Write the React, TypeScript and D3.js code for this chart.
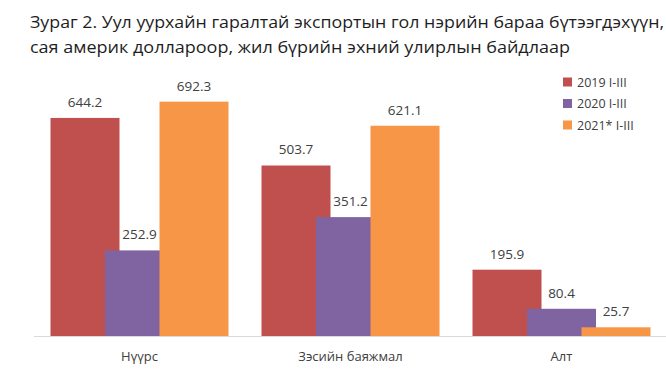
import React from 'react';
import * as d3 from 'd3';

const categories = ['Нүүрс', 'Зэсийн баяжмал', 'Алт'];
const seriesNames = ['2019 I-III', '2020 I-III', '2021* I-III'];
const values2019 = [644.2, 503.7, 195.9];
const values2020 = [252.9, 351.2, 80.4];
const values2021 = [692.3, 621.1, 25.7];
const seriesColors = ['#C0504D', '#8064A2', '#F79646'];
const titleLines = [
  'Зураг 2. Уул уурхайн гаралтай экспортын гол нэрийн бараа бүтээгдэхүүн,',
  'сая америк доллароор, жил бүрийн эхний улирлын байдлаар',
];

const W = 666;
const H = 385;
const FONT = '"Open Sans", "Noto Sans", sans-serif';

export default function App() {
  const series = [values2019, values2020, values2021];

  // категорийн тэнхлэг
  const x = d3.scaleBand<string>().domain(categories).range([34, 667]).paddingInner(0);
  // цувралын шилжилт (баганууд давхцана)
  const offset = d3.scalePoint<string>().domain(seriesNames).range([-54.5, 54.5]);
  const barWidth = x.bandwidth() * 0.327;
  const y = d3.scaleLinear().domain([0, 800]).range([336, 65.2]);

  const barCenter = (si: number, ci: number) =>
    (x(categories[ci]) || 0) + x.bandwidth() / 2 + (offset(seriesNames[si]) || 0);

  return (
    <div style={{ position: 'absolute', left: 0, top: 0 }}>
      <svg width={W} height={H} style={{ display: 'block', background: '#fff' }} fontFamily={FONT}>
        {/* Гарчиг */}
        <text x={30} y={28} fontSize={16.5} fill="#1e1e1e" textLength={634} lengthAdjust="spacingAndGlyphs">
          {titleLines[0]}
        </text>
        <text x={30} y={53} fontSize={16.5} fill="#1e1e1e" textLength={540} lengthAdjust="spacingAndGlyphs">
          {titleLines[1]}
        </text>

        {/* Баганууд */}
        {series.map((vals, si) => (
          <g key={seriesNames[si]}>
            {vals.map((v, ci) => (
              <rect
                key={categories[ci]}
                x={barCenter(si, ci) - barWidth / 2}
                y={y(v)}
                width={barWidth}
                height={y(0) - y(v)}
                fill={seriesColors[si]}
              />
            ))}
          </g>
        ))}

        {/* Утгын шошго */}
        {series.map((vals, si) =>
          vals.map((v, ci) => (
            <text
              key={`${si}-${ci}`}
              x={barCenter(si, ci)}
              y={y(v) - 11}
              textAnchor="middle"
              fontSize={13.5}
              fill="#404040"
            >
              {v.toFixed(1)}
            </text>
          ))
        )}

        {/* Тэнхлэг */}
        <line x1={34} x2={666} y1={336.5} y2={336.5} stroke="#d9d9d9" strokeWidth={1} />
        {categories.map((c) => (
          <text
            key={c}
            x={(x(c) || 0) + x.bandwidth() / 2}
            y={361}
            textAnchor="middle"
            fontSize={13}
            fill="#404040"
          >
            {c}
          </text>
        ))}

        {/* Тайлбар */}
        {seriesNames.map((s, i) => (
          <g key={s} transform={`translate(563, ${82 + i * 21.5})`}>
            <rect x={0} y={-4.5} width={9} height={9} fill={seriesColors[i]} />
            <text x={14} y={4.5} fontSize={12.5} fill="#404040">
              {s}
            </text>
          </g>
        ))}
      </svg>
    </div>
  );
}
